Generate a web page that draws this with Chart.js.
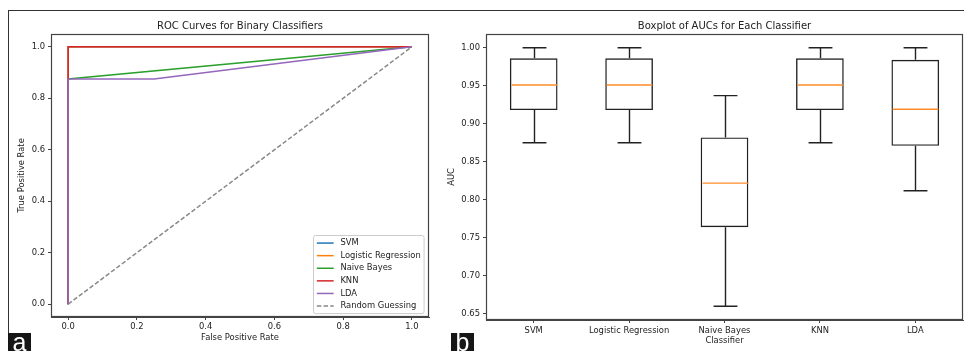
<!DOCTYPE html>
<html>
<head>
<meta charset="utf-8">
<script src="https://cdn.jsdelivr.net/npm/chart.js@4.4.1/dist/chart.umd.min.js"></script>
<style>
  body { margin: 0; background: #fff; width: 964px; height: 351px; overflow: hidden; position: relative; }
  .frame { position: absolute; left: 8px; top: 10px; width: 980px; height: 400px; border-left: 1px solid #333; border-top: 1px solid #333; }
  #roc { position: absolute; left: 0; top: 0; }
  #auc { position: absolute; left: 440px; top: 0; }
  .tag { position: absolute; top: 333px; height: 24px; background: #161616; color: #fff;
         font-family: 'Liberation Sans', Arial, sans-serif; font-size: 25px; line-height: 19px; text-align: center; z-index: 2; }
</style>
</head>
<body>
<div class="frame"></div>
<canvas id="roc" width="440" height="351"></canvas>
<canvas id="auc" width="524" height="351"></canvas>
<div class="tag" style="left:8px;width:23px;">a</div>
<div class="tag" style="left:451px;width:23px;">b</div>
<script>
// ROC curves (panel a)
const rocNames = ['SVM', 'Logistic Regression', 'Naive Bayes', 'KNN', 'LDA', 'Random Guessing'];
const svmFpr = [0, 0, 1];
const svmTpr = [0, 1, 1];
const lrFpr = [0, 0, 1];
const lrTpr = [0, 1, 1];
const nbFpr = [0, 0, 1];
const nbTpr = [0, 0.875, 1];
const knnFpr = [0, 0, 1];
const knnTpr = [0, 1, 1];
const ldaFpr = [0, 0, 0.25, 1];
const ldaTpr = [0, 0.875, 0.875, 1];
const randFpr = [0, 1];
const randTpr = [0, 1];
const rocTicks = [0, 0.2, 0.4, 0.6, 0.8, 1.0];

// AUC boxplot (panel b)
const classifiers = ['SVM', 'Logistic Regression', 'Naive Bayes', 'KNN', 'LDA'];
const aucMin = [0.875, 0.875, 0.660, 0.875, 0.812];
const aucQ1 = [0.918, 0.918, 0.764, 0.918, 0.871];
const aucMedian = [0.951, 0.951, 0.822, 0.951, 0.919];
const aucQ3 = [0.986, 0.986, 0.882, 0.986, 0.984];
const aucMax = [1.0, 1.0, 0.937, 1.0, 1.0];
const aucTicks = [0.65, 0.70, 0.75, 0.80, 0.85, 0.90, 0.95, 1.00];

const ink = '#222';
const fs = 8.4;
Chart.defaults.font.family = '"DejaVu Sans", sans-serif';
Chart.defaults.font.size = fs;
Chart.defaults.color = ink;

function pts(xs, ys) {
  return xs.map((x, i) => ({ x: x, y: ys[i] }));
}

// frame round the plot area, like matplotlib spines
const framePlugin = {
  id: 'frame',
  afterDatasetsDraw(chart) {
    const a = chart.chartArea, ctx = chart.ctx;
    ctx.save();
    ctx.strokeStyle = '#444';
    ctx.lineWidth = 1.2;
    ctx.strokeRect(Math.round(a.left) + 0.5, Math.round(a.top) + 0.5,
                   Math.round(a.right - a.left) - 1, Math.round(a.bottom - a.top) - 1);
    ctx.restore();
  }
};

// legend inside the plot, lower right
const rocLegend = {
  id: 'rocLegend',
  afterDraw(chart) {
    const ctx = chart.ctx, a = chart.chartArea, sets = chart.data.datasets;
    ctx.save();
    ctx.font = fs + 'px "DejaVu Sans"';
    let tw = 0;
    sets.forEach(d => { tw = Math.max(tw, ctx.measureText(d.label).width); });
    const pad = 0.4 * fs, hl = 2 * fs, gap = 0.8 * fs, row = 1.5 * fs;
    const w = pad + hl + gap + tw + pad;
    const h = 2 * pad + fs * sets.length + 0.5 * fs * (sets.length - 1);
    const x0 = Math.round(a.right - 5 - w) + 0.5, y0 = Math.round(a.bottom - 4 - h) + 0.5;
    ctx.fillStyle = 'rgba(255,255,255,0.8)';
    ctx.strokeStyle = '#ccc';
    ctx.lineWidth = 1;
    ctx.beginPath();
    ctx.roundRect(x0, y0, w, h, 2);
    ctx.fill();
    ctx.stroke();
    ctx.textBaseline = 'middle';
    sets.forEach((d, i) => {
      const cy = y0 + pad + fs / 2 + i * row;
      ctx.strokeStyle = d.borderColor;
      ctx.lineWidth = d.borderWidth;
      ctx.setLineDash(d.borderDash || []);
      ctx.beginPath();
      ctx.moveTo(x0 + pad, cy);
      ctx.lineTo(x0 + pad + hl, cy);
      ctx.stroke();
      ctx.setLineDash([]);
      ctx.fillStyle = ink;
      ctx.fillText(d.label, x0 + pad + hl + gap, cy);
    });
    ctx.restore();
  }
};

function line(label, xs, ys, color, order, dash) {
  return {
    label: label,
    data: pts(xs, ys),
    borderColor: color,
    backgroundColor: color,
    borderWidth: 1.5,
    borderDash: dash || [],
    showLine: true,
    pointRadius: 0,
    tension: 0,
    order: order
  };
}

function axisCommon(tickLen, pad) {
  return {
    grid: { drawOnChartArea: false, drawTicks: true, tickLength: tickLen, color: '#444', offset: false },
    border: { display: true, color: '#444' },
    ticks: { padding: pad, color: ink, maxRotation: 0, autoSkip: false }
  };
}

new Chart(document.getElementById('roc'), {
  type: 'scatter',
  data: {
    datasets: [
      line(rocNames[0], svmFpr, svmTpr, '#1f77b4', 6),
      line(rocNames[1], lrFpr, lrTpr, '#ff7f0e', 5),
      line(rocNames[2], nbFpr, nbTpr, '#2ca02c', 4),
      line(rocNames[3], knnFpr, knnTpr, '#d62728', 3),
      line(rocNames[4], ldaFpr, ldaTpr, '#9467bd', 2),
      line(rocNames[5], randFpr, randTpr, '#888888', 1, [4.5, 2.2])
    ]
  },
  options: {
    responsive: false,
    animation: false,
    devicePixelRatio: 1,
    layout: { padding: { left: 0, right: 11, top: 0, bottom: 0 } },
    plugins: {
      legend: { display: false },
      tooltip: { enabled: false },
      title: {
        display: true, fullSize: false, text: 'ROC Curves for Binary Classifiers',
        color: ink, font: { size: 10, weight: 'normal' }, padding: { top: 20, bottom: 2 }
      }
    },
    scales: {
      x: Object.assign(axisCommon(3, 2), {
        type: 'linear', min: -0.05, max: 1.05,
        afterBuildTicks: s => { s.ticks = rocTicks.map(v => ({ value: v })); },
        afterFit: s => { s.height = 34; },
        title: { display: true, text: 'False Positive Rate', color: ink, padding: { top: 0, bottom: 8 } }
      }),
      y: Object.assign(axisCommon(3, 3), {
        type: 'linear', min: -0.05, max: 1.05,
        afterBuildTicks: s => { s.ticks = rocTicks.map(v => ({ value: v })); },
        afterFit: s => { s.width = 51; },
        title: { display: true, text: 'True Positive Rate', color: ink, padding: { top: 17, bottom: 0 } }
      })
    }
  },
  plugins: [framePlugin, rocLegend]
});
Chart.getChart('roc').options.scales.x.ticks.callback = v => v.toFixed(1);
Chart.getChart('roc').options.scales.y.ticks.callback = v => v.toFixed(1);
Chart.getChart('roc').update();

// whiskers, caps and medians for the boxes
const boxExtras = {
  id: 'boxExtras',
  afterDatasetsDraw(chart) {
    const ctx = chart.ctx, y = chart.scales.y;
    const meta = chart.getDatasetMeta(0);
    ctx.save();
    ctx.lineWidth = 1.4;
    meta.data.forEach((bar, i) => {
      const x = Math.round(bar.x) + 0.5, w = bar.width;
      ctx.strokeStyle = '#222';
      ctx.beginPath();
      ctx.moveTo(x, y.getPixelForValue(aucQ3[i]));
      ctx.lineTo(x, y.getPixelForValue(aucMax[i]));
      ctx.moveTo(x, y.getPixelForValue(aucQ1[i]));
      ctx.lineTo(x, y.getPixelForValue(aucMin[i]));
      ctx.moveTo(x - w / 4, y.getPixelForValue(aucMax[i]));
      ctx.lineTo(x + w / 4, y.getPixelForValue(aucMax[i]));
      ctx.moveTo(x - w / 4, y.getPixelForValue(aucMin[i]));
      ctx.lineTo(x + w / 4, y.getPixelForValue(aucMin[i]));
      ctx.stroke();
      ctx.strokeStyle = '#ff8c2a';
      ctx.beginPath();
      ctx.moveTo(x - w / 2 + 1, y.getPixelForValue(aucMedian[i]));
      ctx.lineTo(x + w / 2 - 1, y.getPixelForValue(aucMedian[i]));
      ctx.stroke();
    });
    ctx.restore();
  }
};

new Chart(document.getElementById('auc'), {
  type: 'bar',
  data: {
    labels: classifiers,
    datasets: [{
      label: 'AUC',
      data: aucQ1.map((q, i) => [q, aucQ3[i]]),
      backgroundColor: 'rgba(0,0,0,0)',
      borderColor: '#222',
      borderWidth: 1.4,
      borderSkipped: false,
      barPercentage: 0.5,
      categoryPercentage: 1.0
    }]
  },
  options: {
    responsive: false,
    animation: false,
    devicePixelRatio: 1,
    layout: { padding: { left: 0, right: 1, top: 0, bottom: 0 } },
    plugins: {
      legend: { display: false },
      tooltip: { enabled: false },
      title: {
        display: true, fullSize: false, text: 'Boxplot of AUCs for Each Classifier',
        color: ink, font: { size: 10, weight: 'normal' }, padding: { top: 20, bottom: 2 }
      }
    },
    scales: {
      x: Object.assign(axisCommon(3, 3), {
        type: 'category',
        afterFit: s => { s.height = 31; },
        title: { display: true, text: 'Classifier', color: ink, padding: { top: 0, bottom: 5 } }
      }),
      y: Object.assign(axisCommon(3, 3), {
        type: 'linear', min: 0.642, max: 1.018, beginAtZero: false,
        afterBuildTicks: s => { s.ticks = aucTicks.map(v => ({ value: v })); },
        afterFit: s => { s.width = 46; },
        title: { display: true, text: 'AUC', color: ink, padding: { top: 7, bottom: 0 } }
      })
    }
  },
  plugins: [framePlugin, boxExtras]
});
Chart.getChart('auc').options.scales.y.ticks.callback = v => v.toFixed(2);
Chart.getChart('auc').update();
</script>
</body>
</html>
